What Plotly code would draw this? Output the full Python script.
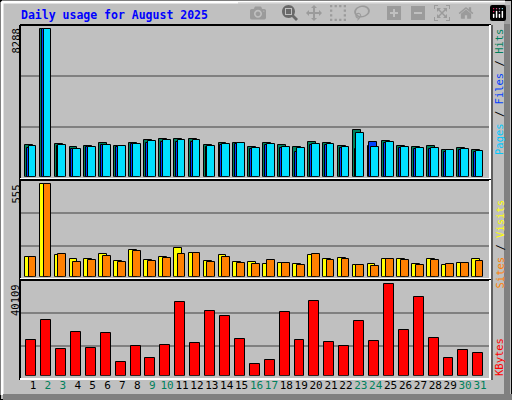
import plotly.graph_objects as go

days = list(range(1, 32))
weekend = [2, 3, 9, 10, 16, 17, 23, 24, 30, 31]

hits = [1761, 8288, 1817, 1667, 1723, 1873, 1723, 1873, 2042, 2098, 2098, 2098, 1761, 1873, 1873, 1667,
        1873, 1761, 1667, 1929, 1873, 1723, 2603, 1723, 1985, 1723, 1667, 1723, 1498, 1611, 1498]
files = [1592, 8279, 1704, 1555, 1667, 1761, 1667, 1817, 1873, 1929, 1929, 1929, 1667, 1761, 1817, 1573,
         1761, 1611, 1386, 1761, 1761, 1611, 1536, 1929, 1873, 1611, 1573, 1573, 1386, 1498, 1386]
pages = [1704, 8288, 1761, 1555, 1667, 1761, 1723, 1817, 1985, 2042, 2042, 2042, 1723, 1817, 1873, 1611,
         1817, 1667, 1611, 1817, 1817, 1667, 2435, 1667, 1929, 1667, 1611, 1611, 1498, 1555, 1442]
visits = [116, 554, 128, 104, 104, 134, 92, 158, 98, 116, 170, 140, 92, 128, 86, 86,
          74, 80, 74, 128, 104, 110, 68, 74, 104, 104, 74, 104, 68, 80, 104]
sites = [116, 554, 134, 86, 98, 122, 86, 152, 92, 110, 134, 140, 86, 116, 80, 74,
         98, 80, 68, 134, 98, 104, 68, 62, 104, 98, 68, 98, 74, 80, 92]
kbytes = [15518, 24302, 11566, 19032, 12005, 18593, 5856, 12883, 7613, 13322, 32208, 14201, 28255, 26059,
          15958, 4978, 6734, 27816, 15518, 32647, 14640, 12883, 23863, 15079, 40109, 19910, 34404, 16397,
          7613, 11126, 9809]

tick_text = [f"<span style='color:#00805C'>{d}</span>" if d in weekend else str(d) for d in days]

fig = go.Figure()
line = dict(color='black', width=1)
fig.add_trace(go.Bar(x=days, y=hits, offset=-0.55, width=0.53, marker=dict(color='#00805C', line=line), yaxis='y'))
fig.add_trace(go.Bar(x=days, y=files, offset=-0.42, width=0.53, marker=dict(color='#0040FF', line=line), yaxis='y'))
fig.add_trace(go.Bar(x=days, y=pages, offset=-0.29, width=0.52, marker=dict(color='#00E0FF', line=line), yaxis='y'))
fig.add_trace(go.Bar(x=days, y=visits, offset=-0.55, width=0.53, marker=dict(color='#FFFF00', line=line), yaxis='y2'))
fig.add_trace(go.Bar(x=days, y=sites, offset=-0.29, width=0.52, marker=dict(color='#FF8000', line=line), yaxis='y2'))
fig.add_trace(go.Bar(x=days, y=kbytes, offset=-0.45, width=0.67, marker=dict(color='#FF0000', line=line), yaxis='y3'))

grid = dict(showgrid=True, gridcolor='#808080', gridwidth=1.5, zeroline=False, showticklabels=False, showline=False, fixedrange=True)
fig.update_layout(
    width=512, height=400, margin=dict(l=0, r=0, t=0, b=0, autoexpand=False),
    paper_bgcolor='#C0C0C0', plot_bgcolor='#C0C0C0',
    barmode='overlay', showlegend=False, bargap=0,
    font=dict(family='DejaVu Sans Mono', size=11, color='black'),
    xaxis=dict(domain=[20/512, 490/512], range=[0.128, 31.67], anchor='y3',
               tickvals=days, ticktext=tick_text, showgrid=False, zeroline=False, tickangle=0,
               ticks='', tickfont=dict(family='DejaVu Sans Mono', size=11), ticklabelstandoff=1),
    yaxis=dict(domain=[1 - 176.7/400, 1 - 25/400], range=[0, 8530], tickvals=[2793, 5659], **grid),
    yaxis2=dict(domain=[1 - 276.7/400, 1 - 180/400], range=[0, 581], tickvals=[182, 380], **grid),
    yaxis3=dict(domain=[1 - 375.7/400, 1 - 280/400], range=[0, 42042], tickvals=[12883, 27376], **grid),
)

shapes = []
# outer bevel
shapes.append(dict(type='rect', xref='paper', yref='paper', x0=0, x1=1, y0=0, y1=1, line=dict(color='black', width=2)))
shapes.append(dict(type='line', xref='paper', yref='paper', x0=2/512, x1=2/512, y0=5/400, y1=398/400, line=dict(color='white', width=3)))
shapes.append(dict(type='line', xref='paper', yref='paper', x0=2/512, x1=505/512, y0=398/400, y1=398/400, line=dict(color='white', width=3)))
shapes.append(dict(type='line', xref='paper', yref='paper', x0=507/512, x1=507/512, y0=0, y1=395/400, line=dict(color='#808080', width=6)))
shapes.append(dict(type='line', xref='paper', yref='paper', x0=3/512, x1=1, y0=3/400, y1=3/400, line=dict(color='#808080', width=6)))
# panel frames
for top, bot in [(25, 180), (180, 280), (280, 380)]:
    y0, y1 = 1 - bot/400, 1 - top/400
    shapes.append(dict(type='line', xref='paper', yref='paper', x0=20/512, x1=491/512, y0=y1, y1=y1, line=dict(color='black', width=2)))
    shapes.append(dict(type='line', xref='paper', yref='paper', x0=20/512, x1=20/512, y0=y0, y1=y1, line=dict(color='black', width=2)))
    shapes.append(dict(type='line', xref='paper', yref='paper', x0=20/512, x1=491/512, y0=y0 + 1/400, y1=y0 + 1/400, line=dict(color='white', width=2)))
    shapes.append(dict(type='line', xref='paper', yref='paper', x0=490/512, x1=490/512, y0=y0, y1=y1, line=dict(color='white', width=2)))
    shapes.append(dict(type='line', xref='paper', yref='paper', x0=492/512, x1=492/512, y0=y0, y1=y1, line=dict(color='black', width=1)))
fig.update_layout(shapes=shapes)

ann = [
    dict(text='<b>Daily usage for August 2025</b>', x=19/512, y=1 - 15/400, xanchor='left', yanchor='middle',
         textangle=0, font=dict(color='#0000FF', size=11.5, family='DejaVu Sans Mono')),
    dict(text='8288', x=15/512, y=1 - 27/400, yanchor='top'),
    dict(text='555', x=15/512, y=1 - 183/400, yanchor='top'),
    dict(text='40109', x=15/512, y=1 - 282/400, yanchor='top'),
    dict(text="<span style='color:#00C8FF'>Pages</span> / <span style='color:#0040FF'>Files</span> / "
              "<span style='color:#00805C'>Hits</span>", x=499/512, y=1 - 27/400, yanchor='top'),
    dict(text="<span style='color:#FF8000'>Sites</span> / <span style='color:#FFFF00'>Visits</span>",
         x=499/512, y=1 - 198/400, yanchor='top'),
    dict(text="<span style='color:#FF0000'>KBytes</span>", x=499/512, y=1 - 378/400, yanchor='bottom'),
]
for a in ann:
    a.setdefault('textangle', -90)
    a.setdefault('xanchor', 'center')
    a.setdefault('font', dict(size=10.5, family='DejaVu Sans Mono', color='black'))
    a.update(xref='paper', yref='paper', showarrow=False)
fig.update_layout(annotations=ann)

fig.write_html("out.html", post_script="document.body.style.margin='0';")
